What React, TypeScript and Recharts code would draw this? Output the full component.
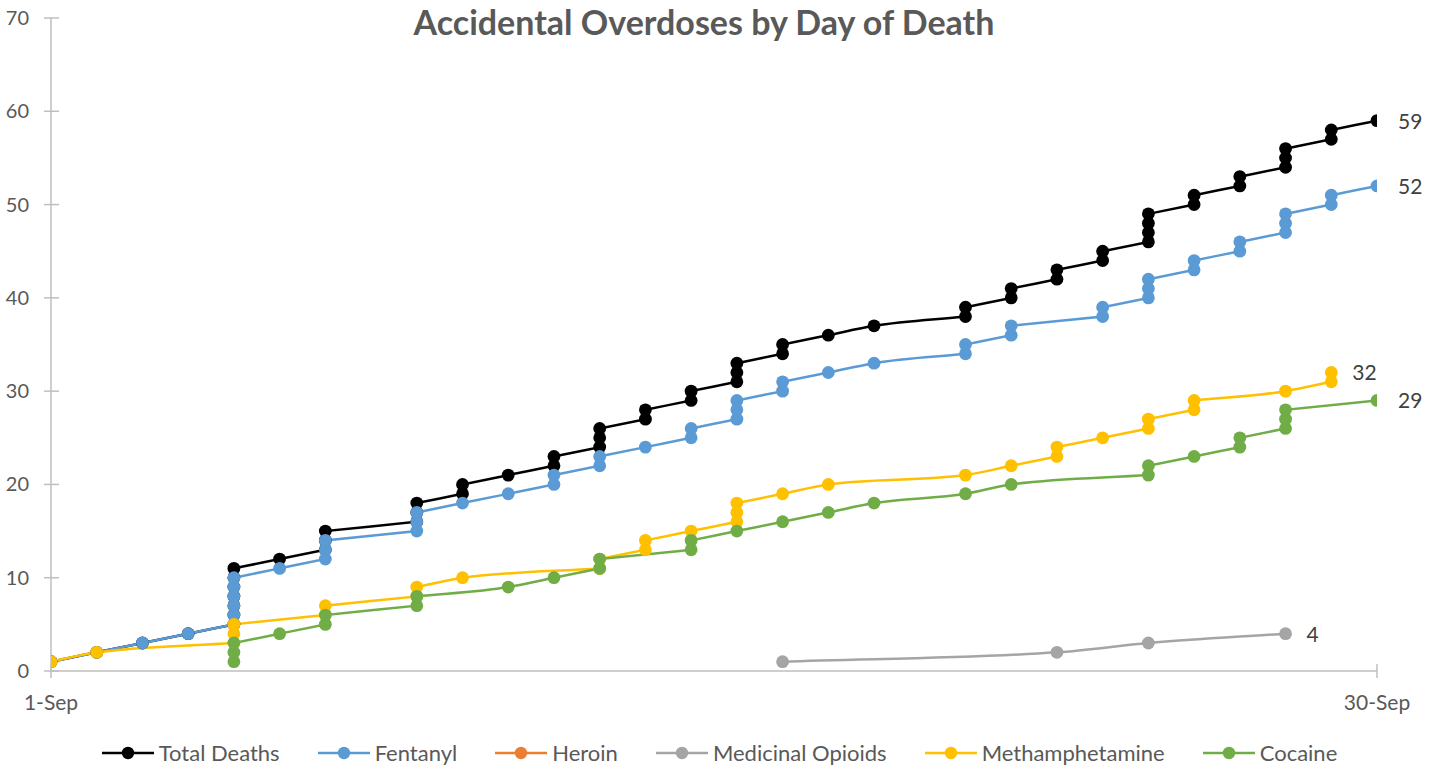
import React from "react";
import { LineChart, Line, XAxis, YAxis, Legend, LabelList } from "recharts";

// [day of September, cumulative count]
const totalDeaths: [number, number][] = [
  [1, 1], [2, 2], [3, 3], [4, 4], [5, 5], [5, 6], [5, 7], [5, 8], [5, 9], [5, 10], [5, 11],
  [6, 12], [7, 13], [7, 14], [7, 15], [9, 16], [9, 17], [9, 18], [10, 19], [10, 20], [11, 21],
  [12, 22], [12, 23], [13, 24], [13, 25], [13, 26], [14, 27], [14, 28], [15, 29], [15, 30],
  [16, 31], [16, 32], [16, 33], [17, 34], [17, 35], [18, 36], [19, 37], [21, 38], [21, 39],
  [22, 40], [22, 41], [23, 42], [23, 43], [24, 44], [24, 45], [25, 46], [25, 47], [25, 48],
  [25, 49], [26, 50], [26, 51], [27, 52], [27, 53], [28, 54], [28, 55], [28, 56], [29, 57],
  [29, 58], [30, 59],
];
const fentanyl: [number, number][] = [
  [1, 1], [2, 2], [3, 3], [4, 4], [5, 5], [5, 6], [5, 7], [5, 8], [5, 9], [5, 10], [6, 11],
  [7, 12], [7, 13], [7, 14], [9, 15], [9, 16], [9, 17], [10, 18], [11, 19], [12, 20], [12, 21],
  [13, 22], [13, 23], [14, 24], [15, 25], [15, 26], [16, 27], [16, 28], [16, 29], [17, 30],
  [17, 31], [18, 32], [19, 33], [21, 34], [21, 35], [22, 36], [22, 37], [24, 38], [24, 39],
  [25, 40], [25, 41], [25, 42], [26, 43], [26, 44], [27, 45], [27, 46], [28, 47], [28, 48],
  [28, 49], [29, 50], [29, 51], [30, 52],
];
const heroin: [number, number][] = [];
const medicinalOpioids: [number, number][] = [[17, 1], [23, 2], [25, 3], [28, 4]];
const methamphetamine: [number, number][] = [
  [1, 1], [2, 2], [5, 3], [5, 4], [5, 5], [7, 6], [7, 7], [9, 8], [9, 9], [10, 10], [13, 11],
  [13, 12], [14, 13], [14, 14], [15, 15], [16, 16], [16, 17], [16, 18], [17, 19], [18, 20],
  [21, 21], [22, 22], [23, 23], [23, 24], [24, 25], [25, 26], [25, 27], [26, 28], [26, 29],
  [28, 30], [29, 31], [29, 32],
];
const cocaine: [number, number][] = [
  [5, 1], [5, 2], [5, 3], [6, 4], [7, 5], [7, 6], [9, 7], [9, 8], [11, 9], [12, 10], [13, 11],
  [13, 12], [15, 13], [15, 14], [16, 15], [17, 16], [18, 17], [19, 18], [21, 19], [22, 20],
  [25, 21], [25, 22], [26, 23], [27, 24], [27, 25], [28, 26], [28, 27], [28, 28], [30, 29],
];

const series = [
  { name: "Total Deaths", color: "#000000", points: totalDeaths },
  { name: "Fentanyl", color: "#5b9bd5", points: fentanyl },
  { name: "Heroin", color: "#ed7d31", points: heroin },
  { name: "Medicinal Opioids", color: "#a5a5a5", points: medicinalOpioids },
  { name: "Methamphetamine", color: "#ffc000", points: methamphetamine },
  { name: "Cocaine", color: "#70ad47", points: cocaine },
];

const yTicks = [0, 10, 20, 30, 40, 50, 60, 70];
const xTicks = [1, 30];
const monthName = "Sep";

const FONT = "Lato, 'Open Sans', sans-serif";
const TEXT = "#595959";
const AXIS = "#bfbfbf";

// smooth curve that keeps same-day stacks vertical (like Excel's smoothed lines)
function excelSmooth(context: any) {
  let pts: number[][] = [];
  return {
    areaStart() {},
    areaEnd() {},
    lineStart() {
      pts = [];
    },
    point(x: number, y: number) {
      const last = pts[pts.length - 1];
      if (last && last[0] === +x && last[1] === +y) return;
      pts.push([+x, +y]);
    },
    lineEnd() {
      const n = pts.length;
      if (!n) return;
      context.moveTo(pts[0][0], pts[0][1]);
      if (n === 1) return;
      const h: number[] = [];
      const s: number[] = [];
      for (let i = 0; i < n - 1; i++) {
        h[i] = pts[i + 1][0] - pts[i][0];
        s[i] = Math.abs(h[i]) > 1e-6 ? (pts[i + 1][1] - pts[i][1]) / h[i] : NaN;
      }
      const t: number[] = [];
      for (let i = 0; i < n; i++) {
        const a = i > 0 ? s[i - 1] : NaN;
        const b = i < n - 1 ? s[i] : NaN;
        if (isNaN(a) && isNaN(b)) t[i] = 0;
        else if (isNaN(a)) t[i] = b;
        else if (isNaN(b)) t[i] = a;
        else if (a * b <= 0) t[i] = 0;
        else {
          const p = (a * h[i] + b * h[i - 1]) / (h[i - 1] + h[i]);
          t[i] = Math.sign(p) * Math.min(Math.abs(p), 2 * Math.abs(a), 2 * Math.abs(b));
        }
      }
      for (let i = 0; i < n - 1; i++) {
        const [x0, y0] = pts[i];
        const [x1, y1] = pts[i + 1];
        if (isNaN(s[i])) {
          context.lineTo(x1, y1);
        } else {
          const dx = h[i] / 3;
          context.bezierCurveTo(x0 + dx, y0 + dx * t[i], x1 - dx, y1 - dx * t[i + 1], x1, y1);
        }
      }
    },
  };
}

function YTick(props: any) {
  const { x, y, payload } = props;
  const ax = x + 24;
  return (
    <g>
      <line x1={ax - 7} x2={ax + 8} y1={y} y2={y} stroke={AXIS} strokeWidth={1.5} />
      <text x={x + 2} y={y} dy={7} textAnchor="end" fill={TEXT} fontSize={20} fontFamily={FONT}>
        {payload.value}
      </text>
    </g>
  );
}

function XTick(props: any) {
  const { x, y, payload } = props;
  const ay = y - 22;
  return (
    <g>
      <line x1={x} x2={x} y1={ay - 7} y2={ay + 7} stroke={AXIS} strokeWidth={1.5} />
      <text x={x} y={y} dy={17} textAnchor="middle" fill={TEXT} fontSize={21} fontFamily={FONT}>
        {`${payload.value}-${monthName}`}
      </text>
    </g>
  );
}

function endLabel(count: number) {
  return (p: any) => {
    if (p.index !== count - 1) return <g />;
    return (
      <text x={p.x + 21} y={p.y} dy={8} fill="#404040" fontSize={21} fontFamily={FONT}>
        {p.value}
      </text>
    );
  };
}

function dotFor(color: string) {
  return (p: any) => <circle key={`d${p.index}`} cx={p.cx} cy={p.cy} r={6.4} fill={color} />;
}

function LegendContent() {
  return (
    <div style={{ display: "flex", justifyContent: "center", gap: 38, fontFamily: FONT, fontSize: 22, color: TEXT }}>
      {series.map((s) => (
        <div key={s.name} style={{ display: "flex", alignItems: "center" }}>
          <svg width={52} height={14} style={{ marginRight: 5 }}>
            <line x1={0} x2={52} y1={7} y2={7} stroke={s.color} strokeWidth={2.5} />
            <circle cx={26} cy={7} r={6.2} fill={s.color} />
          </svg>
          <span>{s.name}</span>
        </div>
      ))}
    </div>
  );
}

export default function App() {
  return (
    <div style={{ position: "absolute", left: 0, top: 0, width: 1439, height: 766, background: "#fff" }}>
      <div
        style={{
          position: "absolute",
          left: 0,
          top: 1,
          width: 1408,
          textAlign: "center",
          fontFamily: FONT,
          fontWeight: 700,
          fontSize: 34,
          color: TEXT,
        }}
      >
        Accidental Overdoses by Day of Death
      </div>
      <LineChart width={1439} height={766} margin={{ top: 18, right: 62, left: 0, bottom: 55 }}>
        <XAxis
          type="number"
          dataKey="x"
          domain={[1, 30]}
          ticks={xTicks}
          tick={<XTick />}
          tickLine={false}
          axisLine={{ stroke: AXIS, strokeWidth: 1.5 }}
          height={40}
          tickMargin={16}
          allowDataOverflow
        />
        <YAxis
          type="number"
          domain={[0, 70]}
          ticks={yTicks}
          tick={<YTick />}
          tickLine={false}
          tickSize={6}
          tickMargin={18}
          axisLine={{ stroke: AXIS, strokeWidth: 1.5 }}
          width={51}
        />
        <Legend
          verticalAlign="middle"
          layout="horizontal"
          content={<LegendContent />}
          wrapperStyle={{ top: 739, left: 0, width: 1439 }}
        />
        {series.map((s) => (
          <Line
            key={s.name}
            name={s.name}
            data={s.points.map(([x, y]) => ({ x, y }))}
            dataKey="y"
            type={excelSmooth as any}
            stroke={s.color}
            strokeWidth={2.5}
            dot={dotFor(s.color)}
            activeDot={false}
            isAnimationActive={false}
          >
            <LabelList dataKey="y" content={endLabel(s.points.length)} />
          </Line>
        ))}
      </LineChart>
    </div>
  );
}
